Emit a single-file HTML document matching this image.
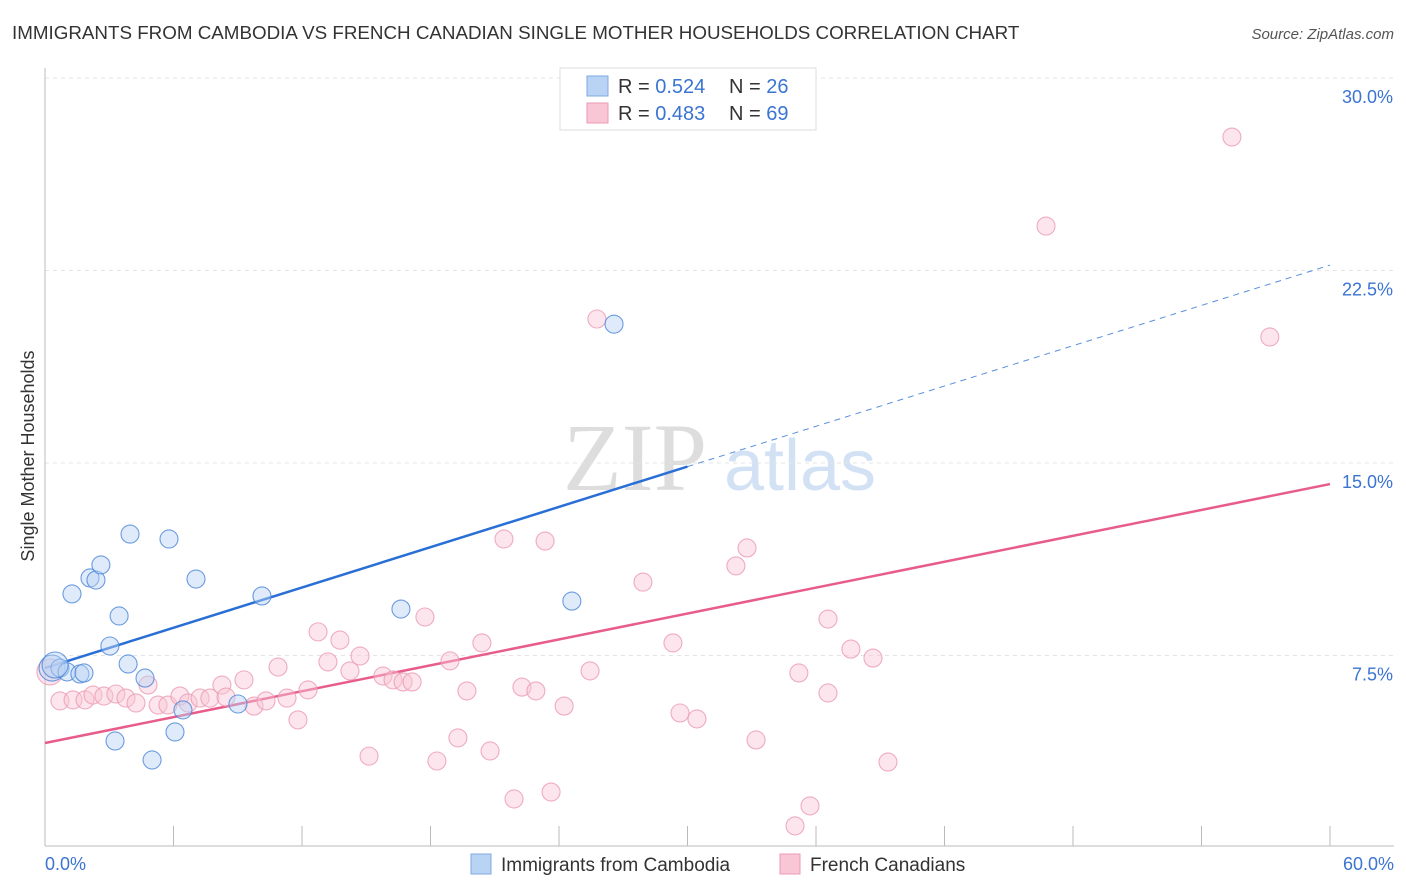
<!DOCTYPE html>
<html><head><meta charset="utf-8"><style>
body{margin:0;background:#fff;font-family:"Liberation Sans",sans-serif}
svg{display:block}
</style></head><body>
<svg id="chart" width="1406" height="892" viewBox="0 0 1406 892">
<text x="12" y="39" font-size="18.8" fill="#333">IMMIGRANTS FROM CAMBODIA VS FRENCH CANADIAN SINGLE MOTHER HOUSEHOLDS CORRELATION CHART</text>
<text x="1394" y="39" font-size="15" fill="#555" font-style="italic" text-anchor="end">Source: ZipAtlas.com</text>
<g>
<text x="635" y="490" font-size="96" fill="#ddd" font-family="Liberation Serif,serif" text-anchor="middle">ZIP</text>
<text x="800" y="490" font-size="72" fill="#d2e2f4" text-anchor="middle">atlas</text>
</g>
<g id="grid"></g>
<g id="axes"></g>
<g id="lines"></g>
<g id="points"></g>
<text transform="translate(34,456) rotate(-90)" font-size="18" fill="#333" text-anchor="middle">Single Mother Households</text>
<text x="45" y="870" font-size="18" fill="#3b74d1">0.0%</text>
<text x="1394" y="870" font-size="18" fill="#3b74d1" text-anchor="end">60.0%</text>
<g>
<rect x="560" y="68" width="256" height="62" fill="#fff" stroke="#ddd"/>
<rect x="587" y="76" width="21" height="20" fill="#b9d3f5" stroke="#7fa8e0"/>
<rect x="587" y="103" width="21" height="20" fill="#f9c6d5" stroke="#eb9ab3"/>
<text x="618" y="93" font-size="20" fill="#333">R = <tspan fill="#3b74d1">0.524</tspan></text>
<text x="729" y="93" font-size="20" fill="#333">N = <tspan fill="#3b74d1">26</tspan></text>
<text x="618" y="120" font-size="20" fill="#333">R = <tspan fill="#3b74d1">0.483</tspan></text>
<text x="729" y="120" font-size="20" fill="#333">N = <tspan fill="#3b74d1">69</tspan></text>
</g>
<g>
<rect x="471" y="854" width="20" height="20" fill="#b9d3f5" stroke="#7fa8e0"/>
<text x="501" y="871" font-size="19" fill="#333">Immigrants from Cambodia</text>
<rect x="780" y="854" width="20" height="20" fill="#f9c6d5" stroke="#eb9ab3"/>
<text x="810" y="871" font-size="19" fill="#333">French Canadians</text>
</g>
</svg>
<script>
const yTicks=[7.5,15,22.5,30];
const yTickLabels=["7.5%","15.0%","22.5%","30.0%"];
const xTicks=[0,6,12,18,24,30,36,42,48,54,60];
const blueX=[0.33,0.70,1.03,1.63,1.82,1.26,2.10,2.38,2.61,3.03,3.46,3.88,3.97,4.67,5.00,3.27,5.79,6.07,6.44,7.05,9.01,10.13,16.62,24.60,26.57,0.47];
const blueY=[7.01,7.01,6.86,6.78,6.82,9.90,10.52,10.44,11.03,7.87,9.04,7.17,12.23,6.62,3.43,4.17,12.04,4.52,5.38,10.48,5.61,9.82,9.31,9.62,20.41,7.13];
const pinkX=[0.23,0.70,1.31,1.87,2.24,2.75,3.31,3.78,4.25,4.81,5.28,5.74,6.30,6.68,7.24,7.70,8.26,8.45,9.29,9.76,10.32,10.88,11.30,11.81,12.28,12.75,13.21,13.77,14.24,14.71,15.13,15.78,16.25,16.72,17.14,17.74,18.30,18.91,19.28,19.70,20.40,20.78,21.43,21.90,22.27,22.92,23.35,23.63,24.24,25.45,25.77,27.92,29.32,29.65,30.44,32.26,32.78,33.20,35.20,35.02,35.72,36.56,36.56,37.63,38.66,39.36,46.74,55.42,57.19];
const pinkY=[6.86,5.73,5.77,5.77,5.96,5.92,6.00,5.84,5.65,6.35,5.57,5.57,5.92,5.65,5.84,5.84,6.35,5.88,6.55,5.53,5.73,7.05,5.84,4.99,6.16,8.42,7.25,8.10,6.90,7.48,3.58,6.70,6.55,6.47,6.47,9.00,3.39,7.29,4.29,6.12,7.99,3.78,12.04,1.91,6.27,6.12,11.96,2.18,5.53,6.90,20.61,10.36,7.99,5.26,5.03,10.99,11.69,4.21,6.82,0.86,1.64,8.92,6.04,7.75,7.40,3.35,24.23,27.70,19.91];
const blueTrend=[7.01,22.71];
const pinkTrend=[4.09,14.18];
const blueSolidEnd=30;
const X=v=>45+v/60*1285;
const Y=v=>848-v/7.5*192.5;
const NS="http://www.w3.org/2000/svg";
function mk(tag,attrs,parent){const e=document.createElementNS(NS,tag);for(const k in attrs)e.setAttribute(k,attrs[k]);document.getElementById(parent).appendChild(e);return e;}
yTicks.forEach((t,i)=>{
 const g=mk('line',{x1:45,x2:1394,y1:Y(t),y2:Y(t),stroke:'#e4e4e4','stroke-dasharray':'4,4'},'grid');
 
 
 const l=mk('text',{x:1393,y:Y(t)+25,'font-size':18,fill:'#3b74d1','text-anchor':'end'},'grid');
 l.textContent=yTickLabels[i];
 
 
});
const ya=mk('line',{x1:45,x2:45,y1:68,y2:846,stroke:'#bbb'},'axes');


const xa=mk('line',{x1:45,x2:1394,y1:846,y2:846,stroke:'#bbb'},'axes');


xTicks.forEach(t=>{
 const k=mk('line',{x1:X(t),x2:X(t),y1:826,y2:846,stroke:'#bbb'},'axes');
 
 
});
function trend(tr,x0,x1,color,dash,name){
 const a={x1:X(x0),y1:Y(tr[0]+(tr[1]-tr[0])*x0/60),x2:X(x1),y2:Y(tr[0]+(tr[1]-tr[0])*x1/60),stroke:color,'stroke-width':dash?1:2.5};
 if(dash)a['stroke-dasharray']='6,5';
 const l=mk('line',a,'lines');
 
 
}
function pts(xs,ys,fill,stroke,name){
 xs.forEach((x,i)=>{
  const big=x<0.5;
  const c=mk('circle',{cx:X(x),cy:Y(ys[i]),r:big?13:9,fill:fill,'fill-opacity':0.45,stroke:stroke,'stroke-opacity':0.8,'stroke-width':1.1},'points');
  
  
 });
}
pts(pinkX,pinkY,'#f9c6d5','#eb9ab3','french-canadian-point');
pts(blueX,blueY,'#b9d3f5','#4a84d8','cambodia-point');
trend(blueTrend,0,blueSolidEnd,'#2a6fd6',false,'cambodia-trend-line');
trend(blueTrend,blueSolidEnd,60,'#5a8fdd',true,'cambodia-trend-extension');
trend(pinkTrend,0,60,'#e85c8c',false,'french-canadian-trend-line');
</script>
</body></html>
